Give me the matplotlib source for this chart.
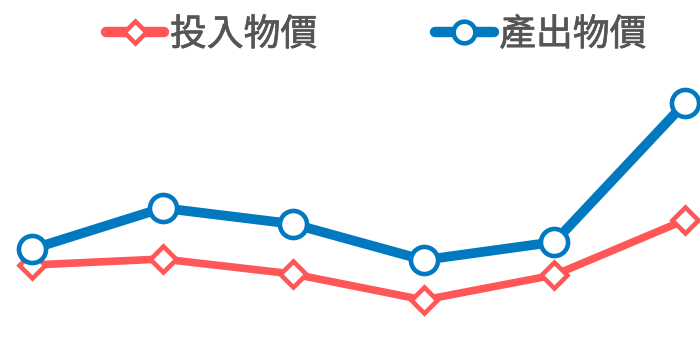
import matplotlib.pyplot as plt
import matplotlib.patheffects as pe

plt.rcParams['font.family'] = ['Noto Sans CJK TC', 'DejaVu Sans']

# six periods, no axis labels shown in the chart
periods = [1, 2, 3, 4, 5, 6]
input_price = [3.5, 4.1, 2.6, 0.0, 2.5, 8.0]
output_price = [5.1, 9.2, 7.6, 4.0, 5.8, 19.7]
labels = ['投入物價', '產出物價']

red = '#FF5757'
blue = '#0079C1'

fig = plt.figure(figsize=(7, 3.56), dpi=100)
ax = fig.add_axes([0, 0, 1, 1])

ax.plot(periods, input_price, color=red, lw=5.5, marker='D', ms=13.5,
        mfc='white', mec=red, mew=3.3, label=labels[0], solid_capstyle='round')
ax.plot(periods, output_price, color=blue, lw=7, marker='o', ms=19.5,
        mfc='white', mec=blue, mew=3.3, label=labels[1], solid_capstyle='round')

# index spacing about 130.6 px, first point at x=32 px
ax.set_xlim(1 - 32 / 130.6, 6 + 15 / 130.6)
ax.set_ylim(-5.6, 30)
ax.axis('off')

leg = fig.legend(loc='upper center', bbox_to_anchor=(0.537, 1.05), ncol=2,
                 frameon=False, prop={'size': 26.5},
                 handlelength=1.6, handletextpad=0.15, columnspacing=3.2,
                 markerscale=0.8)
for t in leg.get_texts():
    t.set_color('#555555')
    # regular weight is a bit thin next to the reference
    t.set_path_effects([pe.withStroke(linewidth=0.5, foreground='#555555')])
for ln in leg.get_lines():
    ln.set_linewidth(7.5)

fig.savefig('out.png', dpi=100)
